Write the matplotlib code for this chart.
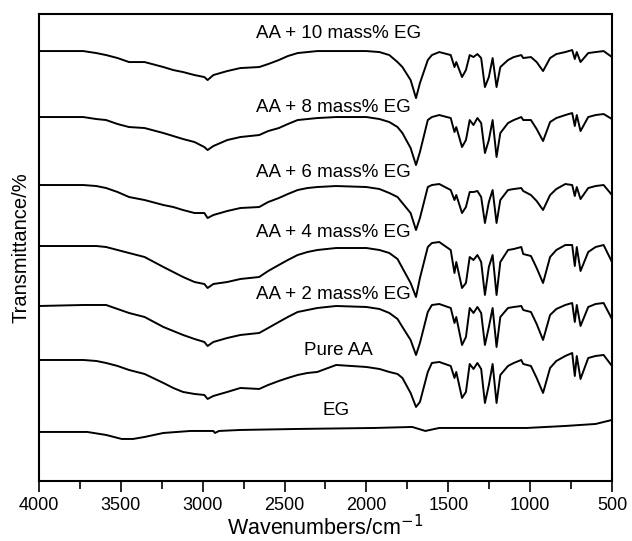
import matplotlib
matplotlib.use("Agg")
import matplotlib.pyplot as plt
from matplotlib.ticker import MultipleLocator

plt.rcParams['font.family'] = ['Liberation Sans', 'DejaVu Sans']

# wavenumber grid shared by the AA spectra (cm-1)
wn = [4000, 3730, 3650, 3590, 3520, 3450, 3355, 3240, 3180, 3120,
      3050, 2990, 2970, 2935, 2850, 2770, 2655, 2600, 2535, 2480,
      2420, 2360, 2300, 2185, 2000, 1920, 1860, 1810, 1780, 1730,
      1697, 1673, 1625, 1600, 1555, 1485, 1462, 1451, 1416, 1392,
      1369, 1346, 1322, 1299, 1276, 1252, 1229, 1205, 1182, 1135,
      1100, 1054, 1042, 995, 960, 921, 878, 840, 785, 743,
      727, 715, 692, 645, 600, 551, 500]

# stacked transmittance (offset, arbitrary units)
aa10 = [430, 430, 428, 426, 423, 419, 419, 414, 411, 409,
        406, 404, 401, 406, 410, 413, 414, 417, 421, 425,
        428, 429, 430, 430, 430, 429, 426, 419, 414, 401,
        383, 398, 421, 426, 429, 426, 414, 419, 404, 411,
        426, 424, 427, 423, 394, 404, 423, 394, 414, 421,
        424, 426, 423, 424, 419, 410, 423, 427, 429, 431,
        422, 429, 419, 428, 429, 430, 424]
aa8 = [364, 364, 362, 361, 357, 354, 353, 348, 345, 342,
       339, 334, 331, 335, 341, 344, 346, 350, 353, 357,
       361, 362, 363, 364, 364, 362, 359, 354, 348, 333,
       316, 329, 361, 364, 366, 363, 349, 354, 334, 341,
       361, 356, 363, 358, 328, 341, 361, 324, 348, 358,
       361, 364, 361, 361, 352, 340, 359, 363, 366, 368,
       355, 366, 350, 364, 366, 367, 362]
aa6 = [296, 296, 295, 293, 289, 284, 281, 276, 274, 271,
       268, 268, 263, 266, 270, 273, 274, 279, 283, 287,
       291, 293, 294, 295, 294, 292, 288, 284, 278, 268,
       251, 263, 294, 296, 297, 291, 281, 286, 268, 274,
       289, 289, 290, 284, 258, 279, 291, 258, 281, 291,
       292, 293, 290, 286, 280, 271, 286, 292, 297, 296,
       285, 294, 282, 293, 295, 296, 286]
aa4 = [235, 235, 235, 234, 231, 228, 224, 214, 209, 204,
       199, 197, 193, 197, 199, 202, 204, 210, 216, 221,
       226, 229, 231, 233, 233, 231, 228, 222, 213, 198,
       184, 203, 234, 238, 239, 231, 208, 219, 193, 198,
       224, 221, 226, 219, 186, 214, 226, 186, 219, 231,
       232, 234, 227, 225, 213, 198, 224, 231, 236, 236,
       215, 234, 210, 229, 234, 236, 219]
aa2 = [175, 176, 176, 176, 172, 168, 164, 154, 150, 146,
       142, 139, 135, 139, 143, 146, 148, 153, 159, 164,
       169, 171, 173, 175, 174, 172, 168, 162, 154, 141,
       126, 138, 169, 176, 177, 173, 158, 164, 136, 144,
       173, 168, 174, 168, 136, 154, 173, 134, 164, 173,
       174, 175, 171, 169, 157, 141, 166, 172, 176, 178,
       159, 176, 155, 174, 177, 178, 162]
pure_aa = [121, 121, 120, 118, 115, 111, 107, 98, 93, 89,
           87, 86, 82, 85, 89, 93, 92, 96, 100, 103,
           106, 108, 109, 116, 114, 112, 109, 107, 103, 88,
           74, 79, 109, 118, 119, 115, 103, 109, 83, 89,
           117, 112, 118, 112, 78, 96, 117, 78, 106, 115,
           118, 121, 117, 115, 103, 88, 113, 120, 125, 128,
           105, 125, 102, 123, 125, 126, 115]

# expanded graphite spectrum
eg_wn = [4000, 3705, 3590, 3495, 3425, 3355, 3240, 3075, 2935, 2925, 2900,
         2770, 2420, 1950, 1720, 1640, 1555, 1250, 1020, 785, 600, 500]
eg = [49, 49, 46, 42, 42, 44, 48, 50, 50, 48, 50, 51, 52, 53, 54, 50, 53, 53,
      53, 55, 57, 61]

labels = ['AA + 10 mass% EG', 'AA + 8 mass% EG', 'AA + 6 mass% EG',
          'AA + 4 mass% EG', 'AA + 2 mass% EG']
label_y = [448, 374, 309, 249, 186]

fig = plt.figure(figsize=(6.32, 5.41), dpi=100)
ax = fig.add_axes([0.0617, 0.111, 0.9066, 0.863])

for s in [aa10, aa8, aa6, aa4, aa2, pure_aa]:
    ax.plot(wn, s, color='black', lw=1.4, solid_joinstyle='round')
ax.plot(eg_wn, eg, color='black', lw=1.4, solid_joinstyle='round')

for lab, y in zip(labels, label_y):
    ax.text(2677, y, lab, fontsize=13.5, ha='left', va='center')
ax.text(2170, 130, 'Pure AA', fontsize=13.5, ha='center', va='center')
ax.text(2187, 70, 'EG', fontsize=13.5, ha='center', va='center')

ax.set_xlim(4000, 500)
ax.set_ylim(0, 467)
ax.xaxis.set_major_locator(MultipleLocator(500))
ax.xaxis.set_minor_locator(MultipleLocator(250))
ax.tick_params(axis='x', which='major', direction='out', length=8, width=1.2,
               labelsize=13)
ax.tick_params(axis='x', which='minor', direction='out', length=6, width=1.2)
ax.set_yticks([])
for sp in ax.spines.values():
    sp.set_linewidth(1.5)

ax.set_xlabel('Wavenumbers/cm$^{-1}$', fontsize=15.5, labelpad=1)
ax.set_ylabel('Transmittance/%', fontsize=14.5, labelpad=6)

plt.savefig('out.png', dpi=100)
